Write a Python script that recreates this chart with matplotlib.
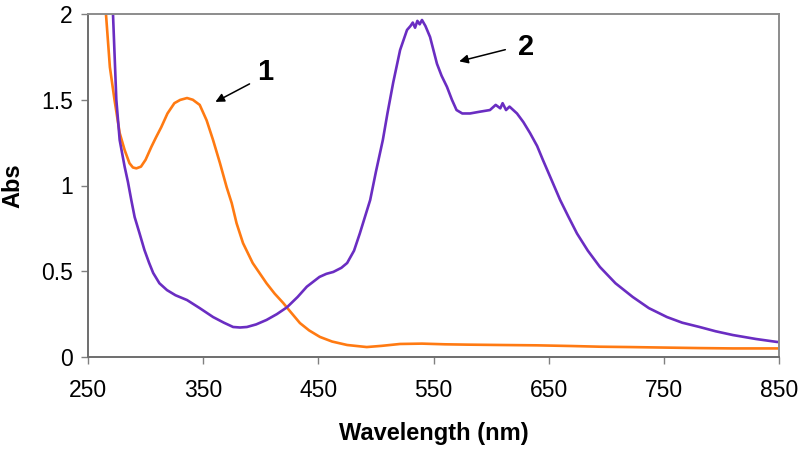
import matplotlib.pyplot as plt

# spectrum 1 (orange)
wl1 = [262, 265.6, 269, 273, 277.5, 281.8, 286, 289, 292, 296, 300, 305, 309, 313.6, 319, 325, 330,
       336, 341, 347, 353, 358.6, 364.6, 370.4, 374.8, 379, 384.6, 393, 405, 412, 419.5, 425, 434,
       442, 451.4, 462, 475, 492, 505, 521, 540, 560, 580, 608, 640, 670, 694.5, 720, 750, 781, 810,
       830, 848, 850]
abs1 = [2.3, 2.0, 1.69, 1.5, 1.306, 1.207, 1.13, 1.105, 1.10, 1.11, 1.15, 1.225, 1.28, 1.34, 1.42,
        1.48, 1.499, 1.51, 1.5, 1.47, 1.38, 1.265, 1.13, 0.99, 0.897, 0.78, 0.664, 0.548, 0.43, 0.37,
        0.315, 0.27, 0.198, 0.155, 0.117, 0.09, 0.07, 0.058, 0.065, 0.076, 0.078, 0.074, 0.072, 0.07,
        0.068, 0.064, 0.06, 0.058, 0.055, 0.052, 0.05, 0.05, 0.05, 0.05]

# spectrum 2 (purple)
wl2 = [269, 271.7, 274.6, 277.5, 281.8, 284.7, 287.6, 290.5, 294.8, 299, 303, 306.6, 312, 318.6, 326,
       336, 347, 358.6, 368, 376, 382, 388, 396, 405, 414, 422.8, 432, 440, 451, 457, 463, 470, 475,
       481, 486, 495, 500, 506, 510, 515, 521, 527, 530, 532, 534, 536, 538, 540, 543, 547, 553, 557,
       561.7, 566, 570, 575, 581.7, 590, 599, 604, 608, 610, 613, 616, 622.5, 628, 633.8, 640, 645,
       652, 660, 667, 674.6, 684, 694.5, 708, 723, 737, 752.7, 766, 781, 795, 810, 830, 848, 850]
abs2 = [2.3, 2.0, 1.5, 1.265, 1.11, 1.02, 0.915, 0.816, 0.72, 0.624, 0.55, 0.49, 0.43, 0.39, 0.36,
        0.332, 0.285, 0.233, 0.2, 0.175, 0.172, 0.175, 0.19, 0.216, 0.25, 0.29, 0.35, 0.41, 0.467,
        0.485, 0.496, 0.52, 0.548, 0.62, 0.72, 0.915, 1.08, 1.265, 1.42, 1.60, 1.79, 1.907, 1.93,
        1.95, 1.92, 1.96, 1.94, 1.965, 1.93, 1.866, 1.71, 1.64, 1.575, 1.5, 1.44, 1.42, 1.42, 1.43,
        1.44, 1.47, 1.45, 1.48, 1.44, 1.46, 1.42, 1.37, 1.306, 1.23, 1.149, 1.04, 0.915, 0.82, 0.72,
        0.62, 0.525, 0.43, 0.35, 0.285, 0.233, 0.2, 0.175, 0.15, 0.128, 0.105, 0.088, 0.087]

xticks = [250, 350, 450, 550, 650, 750, 850]
yticks = [0, 0.5, 1, 1.5, 2]
ytick_labels = ['0', '0.5', '1', '1.5', '2']

plt.rcParams['font.family'] = ['Liberation Sans', 'DejaVu Sans']

fig = plt.figure(figsize=(8, 4.49), dpi=100)
ax = fig.add_axes([88 / 800, 1 - 357 / 449, (779 - 88) / 800, (357 - 14) / 449])

ax.plot(wl1, abs1, color='#FF7A12', lw=1.9)
ax.plot(wl2, abs2, color='#6A2DC2', lw=1.9)

ax.set_xlim(250, 850)
ax.set_ylim(0, 2)
ax.set_xticks(xticks)
ax.set_yticks(yticks)
ax.set_yticklabels(ytick_labels)
ax.tick_params(direction='out', length=5, width=1, color='#808080', labelsize=16.5)
ax.tick_params(axis='x', pad=11)
ax.tick_params(axis='y', pad=6)
for s in ax.spines.values():
    s.set_color('#8c8c8c')
    s.set_linewidth(1.4)
ax.spines['left'].set_color('#6e6e6e')
ax.spines['bottom'].set_color('#6e6e6e')

ax.set_xlabel('Wavelength (nm)', fontsize=17, fontweight='bold', labelpad=14)
ax.set_ylabel('Abs', fontsize=17, fontweight='bold', labelpad=12)

# labels with arrows
ax.annotate('', xy=(358.5, 1.48), xytext=(392.4, 1.60),
            arrowprops=dict(arrowstyle='-|>', color='black', lw=1.1, mutation_scale=13))
ax.text(403.7, 1.66, '1', fontsize=21, fontweight='bold', ha='center', va='center')
ax.annotate('', xy=(570, 1.72), xytext=(614.7, 1.796),
            arrowprops=dict(arrowstyle='-|>', color='black', lw=1.1, mutation_scale=13))
ax.text(630.8, 1.81, '2', fontsize=21, fontweight='bold', ha='center', va='center')

fig.savefig('out.png', dpi=100)
